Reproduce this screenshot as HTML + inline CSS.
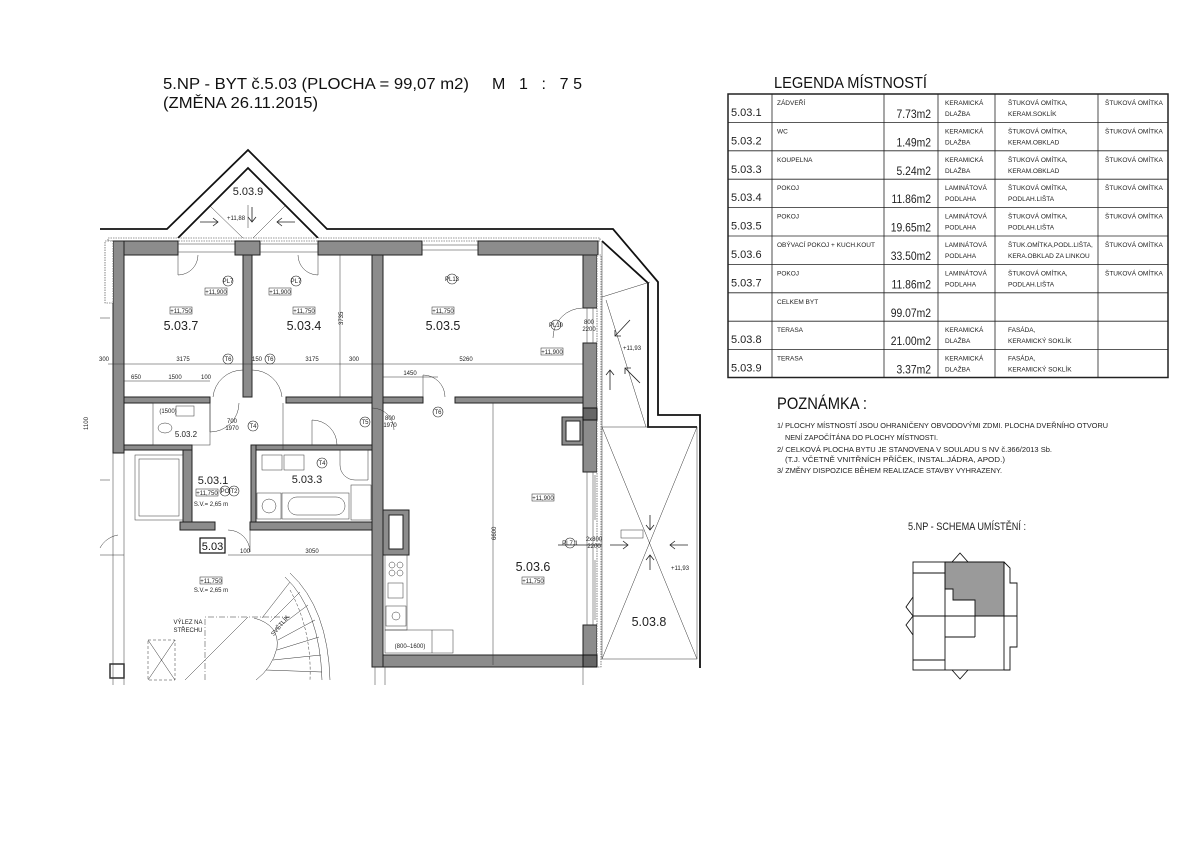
<!DOCTYPE html>
<html><head><meta charset="utf-8"><style>
html,body{margin:0;padding:0;background:#fff;}
svg{display:block;font-family:"Liberation Sans",sans-serif;}
.w{fill:#8c8c8c;stroke:#222;stroke-width:1}
.l{fill:none;stroke:#222;stroke-width:0.8}
.t{fill:none;stroke:#333;stroke-width:0.5}
.k{fill:none;stroke:#111;stroke-width:1.8}
.s{font-size:6px;fill:#222}
.tb{font-size:6.5px;fill:#222}
</style></head><body>
<svg width="1200" height="849" viewBox="0 0 1200 849" xmlns="http://www.w3.org/2000/svg">
<rect width="1200" height="849" fill="#fff"/>
<text x="163" y="89" font-size="16" fill="#111" textLength="306" lengthAdjust="spacingAndGlyphs">5.NP - BYT č.5.03 (PLOCHA = 99,07 m2)</text>
<text x="492" y="89" font-size="16" fill="#111" textLength="90" lengthAdjust="spacing">M 1 : 75</text>
<text x="163" y="108" font-size="16" fill="#111" textLength="155" lengthAdjust="spacingAndGlyphs">(ZMĚNA 26.11.2015)</text>

<text x="774" y="88" font-size="16" fill="#111" textLength="153" lengthAdjust="spacingAndGlyphs">LEGENDA MÍSTNOSTÍ</text>
<g stroke="#222" fill="none">
<rect x="728" y="94" width="440" height="283.5" stroke-width="1.5"/>
<g stroke-width="0.8">
<line x1="772" y1="94" x2="772" y2="377.5"/><line x1="884" y1="94" x2="884" y2="377.5"/><line x1="938" y1="94" x2="938" y2="377.5"/><line x1="995" y1="94" x2="995" y2="377.5"/><line x1="1098" y1="94" x2="1098" y2="377.5"/>
<line x1="728" y1="122.4" x2="1168" y2="122.4"/><line x1="728" y1="150.8" x2="1168" y2="150.8"/><line x1="728" y1="179.2" x2="1168" y2="179.2"/><line x1="728" y1="207.6" x2="1168" y2="207.6"/><line x1="728" y1="236" x2="1168" y2="236"/><line x1="728" y1="264.4" x2="1168" y2="264.4"/><line x1="728" y1="292.8" x2="1168" y2="292.8"/><line x1="728" y1="321.2" x2="1168" y2="321.2"/><line x1="728" y1="349.6" x2="1168" y2="349.6"/>
</g></g>
<g fill="#222">
<g font-size="11"><text x="731" y="116">5.03.1</text><text x="731" y="144.4">5.03.2</text><text x="731" y="172.8">5.03.3</text><text x="731" y="201.2">5.03.4</text><text x="731" y="229.6">5.03.5</text><text x="731" y="258">5.03.6</text><text x="731" y="286.4">5.03.7</text><text x="731" y="343.2">5.03.8</text><text x="731" y="371.6">5.03.9</text></g>
<g font-size="11.5" text-anchor="end" transform="translate(931 0) scale(0.9 1) translate(-931 0)"><text x="931" y="118">7.73m2</text><text x="931" y="146.4">1.49m2</text><text x="931" y="174.8">5.24m2</text><text x="931" y="203.2">11.86m2</text><text x="931" y="231.6">19.65m2</text><text x="931" y="260">33.50m2</text><text x="931" y="288.4">11.86m2</text><text x="931" y="316.8">99.07m2</text><text x="931" y="345.2">21.00m2</text><text x="931" y="373.6">3.37m2</text></g>
<g class="tb">
<text x="777" y="105">ZÁDVEŘÍ</text><text x="777" y="133.4">WC</text><text x="777" y="161.8">KOUPELNA</text><text x="777" y="190.2">POKOJ</text><text x="777" y="218.6">POKOJ</text><text x="777" y="247">OBÝVACÍ POKOJ + KUCH.KOUT</text><text x="777" y="275.4">POKOJ</text><text x="777" y="303.8">CELKEM BYT</text><text x="777" y="332.2">TERASA</text><text x="777" y="360.6">TERASA</text>
<text x="945" y="105">KERAMICKÁ</text><text x="945" y="116">DLAŽBA</text>
<text x="945" y="133.4">KERAMICKÁ</text><text x="945" y="144.4">DLAŽBA</text>
<text x="945" y="161.8">KERAMICKÁ</text><text x="945" y="172.8">DLAŽBA</text>
<text x="945" y="190.2">LAMINÁTOVÁ</text><text x="945" y="201.2">PODLAHA</text>
<text x="945" y="218.6">LAMINÁTOVÁ</text><text x="945" y="229.6">PODLAHA</text>
<text x="945" y="247">LAMINÁTOVÁ</text><text x="945" y="258">PODLAHA</text>
<text x="945" y="275.4">LAMINÁTOVÁ</text><text x="945" y="286.4">PODLAHA</text>
<text x="945" y="332.2">KERAMICKÁ</text><text x="945" y="343.2">DLAŽBA</text>
<text x="945" y="360.6">KERAMICKÁ</text><text x="945" y="371.6">DLAŽBA</text>
<text x="1008" y="105">ŠTUKOVÁ OMÍTKA,</text><text x="1008" y="116">KERAM.SOKLÍK</text>
<text x="1008" y="133.4">ŠTUKOVÁ OMÍTKA,</text><text x="1008" y="144.4">KERAM.OBKLAD</text>
<text x="1008" y="161.8">ŠTUKOVÁ OMÍTKA,</text><text x="1008" y="172.8">KERAM.OBKLAD</text>
<text x="1008" y="190.2">ŠTUKOVÁ OMÍTKA,</text><text x="1008" y="201.2">PODLAH.LIŠTA</text>
<text x="1008" y="218.6">ŠTUKOVÁ OMÍTKA,</text><text x="1008" y="229.6">PODLAH.LIŠTA</text>
<text x="1008" y="247">ŠTUK.OMÍTKA,PODL.LIŠTA,</text><text x="1008" y="258">KERA.OBKLAD ZA LINKOU</text>
<text x="1008" y="275.4">ŠTUKOVÁ OMÍTKA,</text><text x="1008" y="286.4">PODLAH.LIŠTA</text>
<text x="1008" y="332.2">FASÁDA,</text><text x="1008" y="343.2">KERAMICKÝ SOKLÍK</text>
<text x="1008" y="360.6">FASÁDA,</text><text x="1008" y="371.6">KERAMICKÝ SOKLÍK</text>
<text x="1105" y="105">ŠTUKOVÁ OMÍTKA</text><text x="1105" y="133.4">ŠTUKOVÁ OMÍTKA</text><text x="1105" y="161.8">ŠTUKOVÁ OMÍTKA</text><text x="1105" y="190.2">ŠTUKOVÁ OMÍTKA</text><text x="1105" y="218.6">ŠTUKOVÁ OMÍTKA</text><text x="1105" y="247">ŠTUKOVÁ OMÍTKA</text><text x="1105" y="275.4">ŠTUKOVÁ OMÍTKA</text>
</g></g>

<text x="777" y="409" font-size="17" fill="#111" textLength="90" lengthAdjust="spacingAndGlyphs">POZNÁMKA :</text>
<g font-size="7" fill="#222">
<text x="777" y="428" textLength="331" lengthAdjust="spacingAndGlyphs">1/ PLOCHY MÍSTNOSTÍ JSOU OHRANIČENY OBVODOVÝMI ZDMI. PLOCHA DVEŘNÍHO OTVORU</text>
<text x="785" y="440" textLength="153" lengthAdjust="spacingAndGlyphs">NENÍ ZAPOČÍTÁNA DO PLOCHY MÍSTNOSTI.</text>
<text x="777" y="452" textLength="275" lengthAdjust="spacingAndGlyphs">2/ CELKOVÁ PLOCHA BYTU JE STANOVENA V SOULADU S NV č.366/2013 Sb.</text>
<text x="785" y="462" textLength="220" lengthAdjust="spacingAndGlyphs">(T.J. VČETNĚ VNITŘNÍCH PŘÍČEK, INSTAL.JÁDRA, APOD.)</text>
<text x="777" y="473" textLength="225" lengthAdjust="spacingAndGlyphs">3/ ZMĚNY DISPOZICE BĚHEM REALIZACE STAVBY VYHRAZENY.</text>
</g>
<text x="908" y="530" font-size="11" fill="#222" textLength="118" lengthAdjust="spacingAndGlyphs">5.NP - SCHEMA UMÍSTĚNÍ :</text>
<g fill="none" stroke="#111" stroke-width="0.9">
<polygon points="945,562 1004,562 1004,616 975,616 975,600 953,600 953,589 945,589" fill="#9a9a9a"/>
<rect x="913" y="562" width="91" height="108"/>
<line x1="945" y1="562" x2="945" y2="670"/>
<line x1="913" y1="573" x2="945" y2="573"/><line x1="913" y1="616" x2="1017" y2="616"/><line x1="913" y1="660" x2="945" y2="660"/>
<line x1="975" y1="616" x2="975" y2="637"/><line x1="945" y1="637" x2="975" y2="637"/>
<polyline points="1004,562 1010,568 1010,583 1017,583 1017,647 1010,647 1010,670 1004,670"/>
<polyline points="952,562 960,553 968,562"/><polyline points="952,670 960,679 968,670"/>
<polyline points="913,597 906,607 913,616 906,625 913,635"/>
</g>

<g class="k">
<polyline points="100,229 167,229 248,150 327,229 613,229 658,282 658,415 700,415 700,668"/>
<polyline points="178,238 248,168 318,238"/>
<polyline points="602,241 648,283 648,427 697,427"/>
</g>
<rect x="108" y="238" width="492" height="3" fill="#fff" stroke="#333" stroke-width="0.6" stroke-dasharray="1.5 1"/>
<g class="w">
<rect x="113" y="241" width="65" height="14"/>
<rect x="235" y="241" width="25" height="14"/>
<rect x="318" y="241" width="104" height="14"/>
<rect x="478" y="241" width="120" height="14"/>
<rect x="113" y="241" width="11" height="212"/>
<rect x="243" y="255" width="9" height="142"/>
<rect x="372" y="255" width="11" height="412"/>
<rect x="583" y="255" width="14" height="53"/>
<rect x="583" y="343" width="14" height="129"/>
<rect x="583" y="625" width="14" height="42"/>
<rect x="124" y="397" width="86" height="6"/>
<rect x="286" y="397" width="86" height="6"/>
<rect x="383" y="397" width="40" height="6"/>
<rect x="455" y="397" width="128" height="6"/>
<rect x="183" y="445" width="9" height="77"/>
<rect x="124" y="445" width="68" height="5"/>
<rect x="180" y="522" width="35" height="8"/>
<rect x="250" y="522" width="122" height="8"/>
<rect x="251" y="445" width="121" height="5"/>
<rect x="251" y="445" width="5" height="77"/>
<rect x="383" y="655" width="200" height="12"/>
<rect x="383" y="510" width="26" height="45"/>
<rect x="562" y="417" width="21" height="28"/>
</g>
<rect x="597" y="255" width="4" height="412" fill="#fff" stroke="#333" stroke-width="0.6" stroke-dasharray="1.5 1"/>
<rect x="105" y="241" width="8" height="62" fill="#fff" stroke="#333" stroke-width="0.6" stroke-dasharray="1.5 1"/>
<rect x="389" y="515" width="14" height="34" fill="#fff" stroke="#222"/>
<rect x="566" y="421" width="14" height="20" fill="#fff" stroke="#222"/>
<rect x="583" y="408" width="14" height="12" fill="#666" stroke="#111"/>
<rect x="583" y="655" width="14" height="12" fill="#666" stroke="#111"/>
<g class="t">
<line x1="178" y1="244" x2="235" y2="244"/><line x1="178" y1="252" x2="235" y2="252"/>
<line x1="260" y1="244" x2="318" y2="244"/><line x1="260" y1="252" x2="318" y2="252"/>
<line x1="422" y1="245" x2="478" y2="245"/><line x1="422" y1="250" x2="478" y2="250"/>
<line x1="587" y1="472" x2="587" y2="625"/><line x1="593" y1="472" x2="593" y2="625"/>
<line x1="587" y1="308" x2="587" y2="343"/><line x1="593" y1="308" x2="593" y2="343"/>
<line x1="113" y1="453" x2="113" y2="685"/><line x1="124" y1="453" x2="124" y2="685"/>
<line x1="100" y1="318" x2="110" y2="318"/><line x1="100" y1="480" x2="110" y2="480"/>
<line x1="100" y1="555" x2="124" y2="555"/>
<rect x="110" y="664" width="14" height="14" stroke-width="1.5"/>
<line x1="108" y1="364" x2="583" y2="364"/>
<line x1="124" y1="381" x2="210" y2="381"/>
<line x1="383" y1="377" x2="438" y2="377"/>
<line x1="340" y1="255" x2="340" y2="397"/>
<line x1="493" y1="403" x2="493" y2="665"/>
<line x1="283" y1="403" x2="283" y2="450"/>
<line x1="228" y1="555" x2="372" y2="555"/>
<rect x="602" y="427" width="95" height="232"/>
<line x1="602" y1="427" x2="697" y2="659"/><line x1="697" y1="427" x2="602" y2="659"/>
<line x1="602" y1="241" x2="602" y2="427"/>
<line x1="602" y1="297" x2="650" y2="282"/>
<line x1="606" y1="300" x2="646" y2="427"/>
<line x1="210" y1="206" x2="243" y2="238"/><line x1="285" y1="206" x2="253" y2="238"/>
<line x1="248" y1="205" x2="248" y2="228"/>
<path d="M178,255 V275 A20 20 0 0 0 198,255"/>
<path d="M318,255 V275 A20 20 0 0 1 298,255"/>
<path d="M243,397 V370 A30 30 0 0 0 213,397"/>
<path d="M252,397 V370 A30 30 0 0 1 282,397"/>
<path d="M423,397 V375 A22 22 0 0 1 445,397"/>
<path d="M210,403 V432 A29 29 0 0 0 239,403"/>
<path d="M312,445 V420 A25 25 0 0 1 337,445" />
<path d="M372,408 A22 22 0 0 1 394,430"/>
<path d="M250,530 V552 A22 22 0 0 0 228,530"/>
<path d="M583,308 A30 30 0 0 0 553,338"/>
<rect x="153" y="403" width="57" height="42"/>
<rect x="135" y="455" width="48" height="65"/><rect x="139" y="459" width="40" height="57"/>
<rect x="176" y="406" width="18" height="10"/>
<ellipse cx="165" cy="428" rx="7" ry="5"/>
<rect x="262" y="455" width="20" height="15"/><rect x="284" y="455" width="20" height="15"/>
<path d="M340,450 H368 V480 H355 A15 15 0 0 1 340,465 Z"/>
<rect x="282" y="493" width="67" height="26"/><rect x="288" y="497" width="57" height="18" rx="9"/>
<rect x="257" y="493" width="24" height="26"/><circle cx="269" cy="506" r="7"/>
<rect x="351" y="485" width="20" height="35"/>
<rect x="385" y="555" width="22" height="75"/><rect x="385" y="630" width="68" height="23"/>
<circle cx="392" cy="565" r="3"/><circle cx="400" cy="565" r="3"/><circle cx="392" cy="573" r="3"/><circle cx="400" cy="573" r="3"/>
<rect x="388" y="583" width="15" height="15"/>
<rect x="386" y="606" width="20" height="20"/><circle cx="396" cy="616" r="4"/>
<line x1="432" y1="630" x2="432" y2="653"/>
<rect x="621" y="530" width="22" height="8"/>
<line x1="595" y1="475" x2="595" y2="520"/><line x1="595" y1="560" x2="595" y2="620"/>
<path d="M285,577 Q320,610 322,680"/><path d="M290,573 Q328,608 330,680"/>
<path d="M248,617 L185,680"/><path d="M254,618 Q280,625 277,648 Q272,668 256,680"/>
<line x1="290" y1="582" x2="262" y2="618"/><line x1="300" y1="592" x2="270" y2="622"/><line x1="308" y1="605" x2="275" y2="630"/><line x1="315" y1="620" x2="278" y2="640"/><line x1="319" y1="637" x2="277" y2="650"/><line x1="321" y1="655" x2="273" y2="660"/><line x1="322" y1="672" x2="266" y2="670"/>
<path d="M290,590 Q312,630 310,680" stroke-dasharray="3 2"/>
<path d="M205,680 V617 H290" stroke-dasharray="6 2 1 2"/>
<rect x="148" y="640" width="27" height="40" stroke-dasharray="3 2"/>
<line x1="148" y1="640" x2="175" y2="680"/><line x1="175" y1="640" x2="148" y2="680"/>
<path d="M100,548 A25 25 0 0 1 118,535"/>
<line x1="375" y1="685" x2="375" y2="667"/><line x1="385" y1="685" x2="385" y2="667"/><line x1="583" y1="685" x2="583" y2="667"/>
</g>
<g class="l">
<path d="M200,222 H218 M213,218 L218,222 L213,226"/>
<path d="M295,222 H277 M282,218 L277,222 L282,226"/>
<path d="M252,207 V222 M248,217 L252,222 L256,217"/>
<path d="M630,320 L615,336 M615,330 L615,336 L621,336"/>
<path d="M625,368 L640,383 M625,374 L625,368 L631,368"/>
<path d="M610,390 V370 M606,375 L610,370 L614,375"/>
<path d="M610,545 H628 M623,541 L628,545 L623,549"/>
<path d="M688,545 H670 M675,541 L670,545 L675,549"/>
<path d="M650,515 V530 M646,525 L650,530 L654,525"/>
<path d="M650,570 V555 M646,560 L650,555 L654,560"/>
<line x1="558" y1="545" x2="602" y2="545"/>
</g>
<g fill="#222" font-size="12.5" text-anchor="middle">
<text x="181" y="330">5.03.7</text><text x="304" y="330">5.03.4</text><text x="443" y="330">5.03.5</text>
<text x="248" y="195" font-size="11">5.03.9</text>
<text x="213" y="484" font-size="11">5.03.1</text>
<text x="307" y="483" font-size="11">5.03.3</text>
<text x="186" y="437" font-size="8">5.03.2</text>
<text x="533" y="571">5.03.6</text>
<text x="649" y="626">5.03.8</text>
</g>
<rect x="200" y="538" width="25" height="15" fill="none" stroke="#111" stroke-width="1.2"/>
<text x="212.5" y="550" font-size="11" text-anchor="middle" fill="#111">5.03</text>
<g class="s" text-anchor="middle">
<rect x="170" y="307" width="22" height="7" fill="none" stroke="#222" stroke-width="0.5"/><text x="181" y="313">+11,750</text>
<rect x="293" y="307" width="22" height="7" fill="none" stroke="#222" stroke-width="0.5"/><text x="304" y="313">+11,750</text>
<rect x="432" y="307" width="22" height="7" fill="none" stroke="#222" stroke-width="0.5"/><text x="443" y="313">+11,750</text>
<rect x="522" y="577" width="22" height="7" fill="none" stroke="#222" stroke-width="0.5"/><text x="533" y="583">+11,750</text>
<rect x="196" y="489" width="22" height="7" fill="none" stroke="#222" stroke-width="0.5"/><text x="207" y="495">+11,750</text>
<rect x="200" y="577" width="22" height="7" fill="none" stroke="#222" stroke-width="0.5"/><text x="211" y="583">+11,750</text>
<rect x="205" y="288" width="22" height="7" fill="none" stroke="#222" stroke-width="0.5"/><text x="216" y="294">+11,900</text>
<rect x="269" y="288" width="22" height="7" fill="none" stroke="#222" stroke-width="0.5"/><text x="280" y="294">+11,900</text>
<rect x="541" y="348" width="22" height="7" fill="none" stroke="#222" stroke-width="0.5"/><text x="552" y="354">+11,900</text>
<rect x="532" y="494" width="22" height="7" fill="none" stroke="#222" stroke-width="0.5"/><text x="543" y="500">+11,900</text>
<text x="236" y="220">+11,88</text><text x="632" y="350">+11,93</text><text x="680" y="570">+11,93</text>
<text x="211" y="506">S.V.= 2,65 m</text><text x="211" y="592">S.V.= 2,65 m</text>
<text x="183" y="361">3175</text><text x="312" y="361">3175</text><text x="466" y="361">5260</text><text x="354" y="361">300</text><text x="257" y="361">150</text><text x="104" y="361">300</text>
<text x="136" y="379">650</text><text x="175" y="379">1500</text><text x="206" y="379">100</text><text x="410" y="375">1450</text>
<text x="245" y="553">100</text><text x="312" y="553">3050</text>
<text x="168" y="413">(1500)</text><text x="410" y="648">(800–1600)</text>
<text x="188" y="624">VÝLEZ NA</text><text x="188" y="632">STŘECHU</text>
<text x="228" y="283">PL7</text><text x="296" y="283">PL7</text><text x="452" y="281">PL13</text><text x="556" y="327">PL10</text><text x="570" y="545">PL7.1</text>
<text x="228" y="361">T6</text><text x="270" y="361">T6</text><text x="438" y="414">T6</text><text x="253" y="428">T4</text><text x="322" y="465">T4</text><text x="365" y="424">T5</text><text x="234" y="493">T2</text><text x="225" y="493">PO</text>
<text x="232" y="423">700</text><text x="232" y="430">1970</text><text x="390" y="420">800</text><text x="390" y="427">1970</text>
<text x="589" y="324">800</text><text x="589" y="331">2200</text><text x="594" y="541">2x800</text><text x="594" y="548">2200</text>
</g>
<g fill="none" stroke="#222" stroke-width="0.6">
<circle cx="228" cy="281" r="5"/><circle cx="296" cy="281" r="5"/><circle cx="452" cy="279" r="5"/><circle cx="556" cy="325" r="5"/><circle cx="570" cy="543" r="5"/>
<circle cx="228" cy="359" r="5"/><circle cx="270" cy="359" r="5"/><circle cx="438" cy="412" r="5"/><circle cx="253" cy="426" r="5"/><circle cx="322" cy="463" r="5"/><circle cx="365" cy="422" r="5"/><circle cx="234" cy="491" r="5"/><circle cx="225" cy="491" r="5"/>
</g>
<text x="280" y="650" font-size="6" fill="#222" transform="rotate(-50 262 650)">SVĚTLÍK</text>
<g class="s"><text transform="translate(343 325) rotate(-90)">3735</text><text transform="translate(496 540) rotate(-90)">6600</text><text transform="translate(88 430) rotate(-90)">1100</text></g>
</svg>
</body></html>
